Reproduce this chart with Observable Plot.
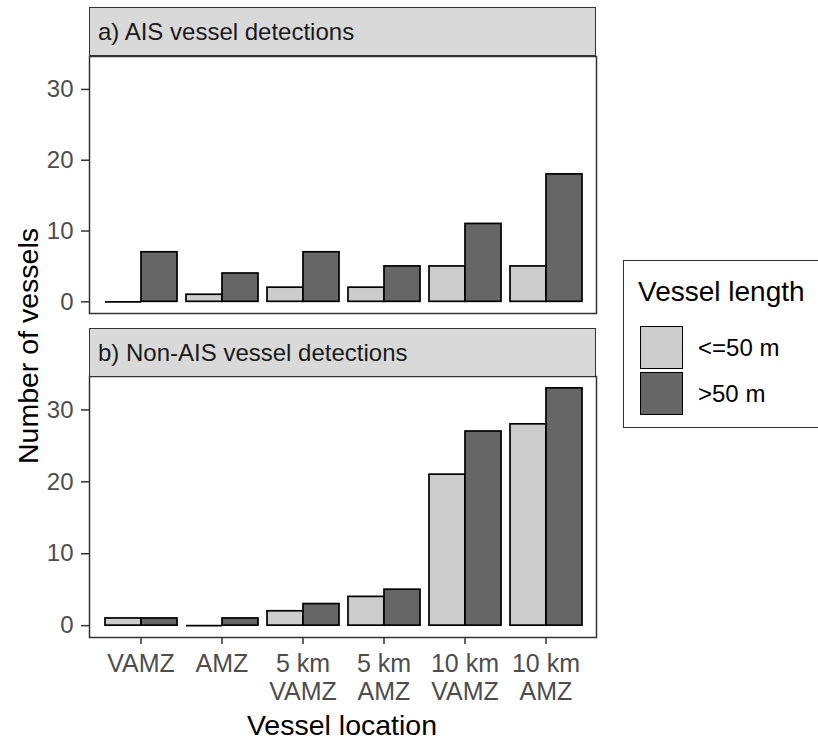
<!DOCTYPE html>
<html><head><meta charset="utf-8">
<script src="https://cdn.jsdelivr.net/npm/d3@7"></script>
<script src="https://cdn.jsdelivr.net/npm/@observablehq/plot@0.6"></script>
<style>
body{margin:0;background:#fff;font-family:"Liberation Sans",Arial,sans-serif;overflow:hidden}
#root{position:relative;width:818px;height:742px;overflow:hidden;background:#fff}
.strip{position:absolute;left:89px;width:507px;background:#d9d9d9;border:1.5px solid #333;box-sizing:border-box;font-size:24px;color:#1a1a1a;padding-left:8px;display:flex;align-items:center;white-space:nowrap}
svg{overflow:visible}
</style></head><body><div id="root"></div>
<script>
const locations = ["VAMZ","AMZ","5 km VAMZ","5 km AMZ","10 km VAMZ","10 km AMZ"];
const locationLabels = ["VAMZ","AMZ","5 km\nVAMZ","5 km\nAMZ","10 km\nVAMZ","10 km\nAMZ"];
const lengths = ["<=50 m", ">50 m"];
const aisSmall = [0,1,2,2,5,5];
const aisLarge = [7,4,7,5,11,18];
const nonAisSmall = [1,0,2,4,21,28];
const nonAisLarge = [1,1,3,5,27,33];
const panelTitles = ["a) AIS vessel detections","b) Non-AIS vessel detections"];
const yTicks = [0,10,20,30];
const fills = ["#cccccc","#666666"];
const xTitle = "Vessel location";
const yTitle = "Number of vessels";
const legendTitle = "Vessel length";

function rowsOf(small, large) {
  const rows = [];
  locations.forEach((loc, i) => {
    rows.push({location: loc, length: lengths[0], count: small[i]});
    rows.push({location: loc, length: lengths[1], count: large[i]});
  });
  return rows;
}
const maxVal = d3.max([...aisSmall, ...aisLarge, ...nonAisSmall, ...nonAisLarge]);
const yDomain = [-0.05 * maxVal, 1.05 * maxVal];
const FONT = '"Liberation Sans", Arial, sans-serif';

function barsPlot(rows, ph, showX, mb) {
  return Plot.plot({
    width: 600, height: 2 + ph + mb, marginTop: 2, marginBottom: mb, marginLeft: 89, marginRight: 4,
    style: {background: "transparent", fontFamily: FONT, fontSize: "24px", color: "#4d4d4d", overflow: "visible"},
    fx: {domain: locations, paddingInner: 0.1, paddingOuter: 0.15, label: null, axis: showX ? undefined : null},
    x: {domain: lengths, padding: 0, axis: null},
    y: {domain: yDomain, axis: null},
    color: {domain: lengths, range: fills},
    marks: [
      Plot.barY(rows, {fx: "location", x: "length", y: "count", fill: "length", stroke: "black", strokeWidth: 1.7}),
      Plot.tickY(rows.filter(d => d.count === 0), {fx: "location", x: "length", y: "count", stroke: "black", strokeWidth: 1.7}),
      showX ? Plot.axisFx({anchor: "bottom", tickSize: 7, tickPadding: 8, strokeWidth: 1.5, stroke: "#333", fill: "#4d4d4d",
        tickFormat: d => locationLabels[locations.indexOf(d)], fontSize: 25, lineHeight: 1.12, label: null}) : null
    ]
  });
}
function framePlot(ph) {
  return Plot.plot({
    width: 600, height: 2 + ph + 2, marginTop: 2, marginBottom: 2, marginLeft: 89, marginRight: 4,
    style: {background: "transparent", fontFamily: FONT, fontSize: "24px", overflow: "visible"},
    y: {domain: yDomain},
    marks: [
      Plot.frame({stroke: "#333", strokeWidth: 1.5}),
      Plot.axisY({ticks: yTicks, tickSize: 8, tickPadding: 8, strokeWidth: 1.5, stroke: "#333", fill: "#4d4d4d", fontSize: 24, label: null})
    ]
  });
}
const root = document.getElementById("root");
function place(el, left, top) {
  el.style.position = "absolute"; el.style.left = left + "px"; el.style.top = top + "px";
  root.appendChild(el);
}

// panel a
place(barsPlot(rowsOf(aisSmall, aisLarge), 257, false, 2), 0, 54);
place(framePlot(257), 0, 54);
// panel b
place(barsPlot(rowsOf(nonAisSmall, nonAisLarge), 261, true, 70), 0, 374);
place(framePlot(261), 0, 374);

// strips
[[7, 49], [328, 49]].forEach(([top, h], i) => {
  const s = document.createElement("div");
  s.className = "strip"; s.style.top = top + "px"; s.style.height = h + "px";
  s.textContent = panelTitles[i];
  root.appendChild(s);
});

// axis titles
const xt = document.createElement("div");
xt.textContent = xTitle;
Object.assign(xt.style, {position: "absolute", left: "142px", width: "400px", textAlign: "center", top: "709px", fontSize: "28.5px", lineHeight: "32px", color: "#000"});
root.appendChild(xt);
const yt = document.createElement("div");
yt.textContent = yTitle;
Object.assign(yt.style, {position: "absolute", left: "28px", top: "346px", width: "400px", textAlign: "center", fontSize: "28.5px", lineHeight: "32px", color: "#000",
  transform: "translate(-50%,-50%) rotate(-90deg)"});
root.appendChild(yt);

// legend
const lg = document.createElement("div");
Object.assign(lg.style, {position: "absolute", left: "623px", top: "260px", width: "220px", height: "168px", border: "1.5px solid #333", boxSizing: "border-box", background: "#fff"});
root.appendChild(lg);
const lt = document.createElement("div");
lt.textContent = legendTitle;
Object.assign(lt.style, {position: "absolute", left: "638px", top: "278px", fontSize: "28px", lineHeight: "28px", color: "#000", whiteSpace: "nowrap"});
root.appendChild(lt);
lengths.forEach((len, i) => {
  const top = 326 + i * 46;
  const k = document.createElement("div");
  Object.assign(k.style, {position: "absolute", left: "640px", top: top + "px", width: "43px", height: "43px", background: fills[i], border: "1.7px solid #000", boxSizing: "border-box"});
  root.appendChild(k);
  const t = document.createElement("div");
  t.textContent = len;
  Object.assign(t.style, {position: "absolute", left: "698px", top: (top + 21.5 - 14) + "px", fontSize: "24px", lineHeight: "28px", color: "#000", whiteSpace: "nowrap"});
  root.appendChild(t);
});
</script></body></html>
